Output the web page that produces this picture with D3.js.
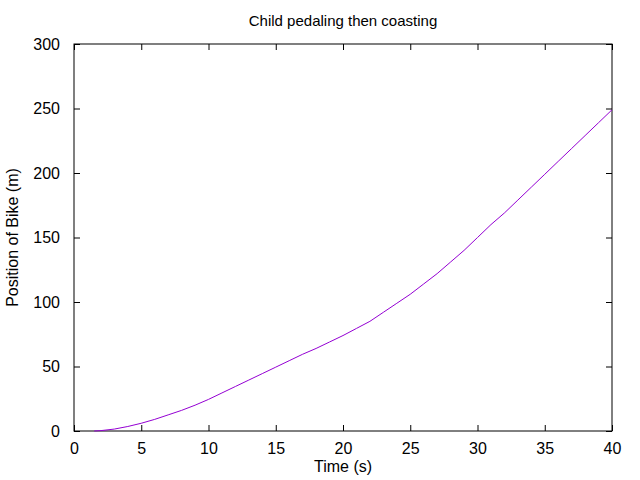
<!DOCTYPE html>
<html><head><meta charset="utf-8">
<script src="https://cdn.jsdelivr.net/npm/d3@7"></script>
<style>body{margin:0;background:#fff}text{font-family:"Liberation Sans",Arial,sans-serif}</style>
</head><body><div id="chart"></div>
<script>
var times = [1.5,2,3,4,5,6,7,8,9,10,11,12,13,14,15,16,17,18,19,20,21,22,23,24,25,26,27,28,29,30,31,32,33,34,35,36,37,38,39,40];
var positions = [0,0.3,1.5,3.5,6,9,12.5,16,20,24.5,29.5,34.5,39.5,44.5,49.5,54.5,59.5,64,69,74,79.5,85,92,99,106,114,122,131,140,150,160,169,179,189,199,209,219,229,239,249];
var xTicks = [0,5,10,15,20,25,30,35,40];
var yTicks = [0,50,100,150,200,250,300];

var W = 640, H = 480, L = 74, R = 612, T = 44, B = 431;
var svg = d3.select("#chart").append("svg").attr("width", W).attr("height", H);
var x = d3.scaleLinear().domain([0, 40]).range([L, R]);
var y = d3.scaleLinear().domain([0, 300]).range([B, T]);

svg.append("g").attr("transform", "translate(0," + B + ")")
	.call(d3.axisBottom(x).tickValues(xTicks).tickSizeInner(-6).tickSizeOuter(0).tickPadding(12));
svg.append("g").attr("transform", "translate(0," + T + ")")
	.call(d3.axisTop(x).tickValues(xTicks).tickSizeInner(-6).tickSizeOuter(0).tickFormat(""));
svg.append("g").attr("transform", "translate(" + L + ",0)")
	.call(d3.axisLeft(y).tickValues(yTicks).tickSizeInner(-6).tickSizeOuter(0).tickPadding(14));
svg.append("g").attr("transform", "translate(" + R + ",0)")
	.call(d3.axisRight(y).tickValues(yTicks).tickSizeInner(-6).tickSizeOuter(0).tickFormat(""));
svg.selectAll(".domain").remove();
svg.selectAll(".tick text").style("font-size", "16px").attr("fill", "#000");
svg.selectAll(".tick line").attr("stroke", "#000");
svg.append("rect").attr("x", L).attr("y", T).attr("width", R - L).attr("height", B - T)
	.attr("fill", "none").attr("stroke", "#000");

svg.append("path")
	.datum(times.map(function(t, i) { return [t, positions[i]]; }))
	.attr("fill", "none").attr("stroke", "#9400d3").attr("stroke-width", 1)
	.attr("d", d3.line().x(function(d) { return x(d[0]); }).y(function(d) { return y(d[1]); }));

svg.append("text").attr("x", (L + R) / 2).attr("y", 26).attr("text-anchor", "middle")
	.style("font-size", "15px").text("Child pedaling then coasting");
svg.append("text").attr("x", (L + R) / 2).attr("y", 472).attr("text-anchor", "middle")
	.style("font-size", "16px").text("Time (s)");
svg.append("text").attr("transform", "translate(18," + (T + B) / 2 + ") rotate(-90)")
	.attr("text-anchor", "middle").style("font-size", "16px").text("Position of Bike (m)");
</script></body></html>
